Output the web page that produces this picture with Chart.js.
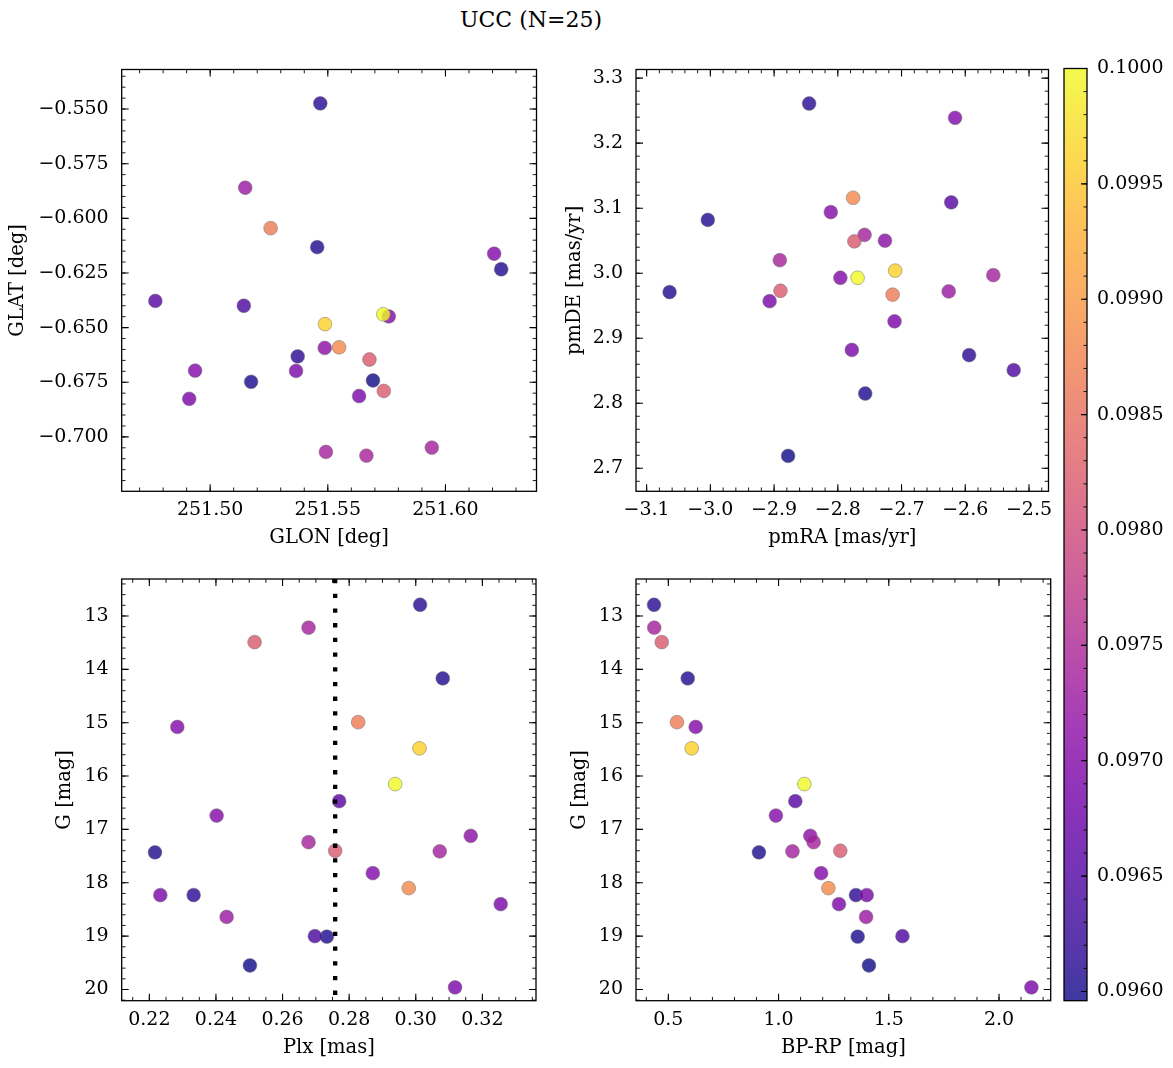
<!DOCTYPE html>
<html><head><meta charset="utf-8">
<script src="https://cdn.jsdelivr.net/npm/chart.js@4/dist/chart.umd.min.js"></script>
<style>
html,body{margin:0;padding:0;background:#fff;}
body{width:1173px;height:1068px;position:relative;overflow:hidden;font-family:'DejaVu Serif',serif;}
canvas{position:absolute;display:block;}
#title{position:absolute;left:0;width:1062px;top:6px;text-align:center;font-size:22px;line-height:28px;color:#000;}
</style></head><body>
<div id="title">UCC (N=25)</div>
<canvas id="c1" width="560" height="520" style="left:0px;top:40px;width:560px;height:520px"></canvas>
<canvas id="c2" width="500" height="520" style="left:560px;top:40px;width:500px;height:520px"></canvas>
<canvas id="c3" width="560" height="518" style="left:0px;top:550px;width:560px;height:518px"></canvas>
<canvas id="c4" width="500" height="518" style="left:560px;top:550px;width:500px;height:518px"></canvas>
<canvas id="cb" width="118" height="1000" style="left:1055px;top:40px;width:118px;height:1000px"></canvas>
<script>
// ---- data (one entry per star) ----
const glon = [251.5468,251.5492,251.5677,251.5455,251.6207,251.5257,251.5488,251.5736,251.4767,251.5759,251.5664,251.5487,251.6237,251.5738,251.5942,251.4936,251.5548,251.5365,251.5372,251.4911,251.5149,251.5143,251.5174,251.5692,251.5633];
const glat = [-0.5474,-0.7069,-0.6646,-0.6132,-0.6162,-0.6045,-0.6484,-0.6439,-0.6378,-0.6449,-0.7086,-0.6593,-0.6233,-0.6790,-0.7049,-0.6697,-0.6590,-0.6698,-0.6632,-0.6826,-0.5860,-0.6400,-0.6748,-0.6742,-0.6813];
const pmra = [-2.845,-2.758,-2.774,-3.004,-2.616,-2.714,-2.710,-2.769,-2.622,-2.811,-2.891,-2.726,-3.064,-2.890,-2.556,-2.796,-2.776,-2.907,-2.594,-2.711,-2.626,-2.524,-2.757,-2.878,-2.778];
const pmde = [3.261,3.059,3.049,3.082,3.239,2.967,3.004,2.993,3.109,3.094,3.020,3.050,2.971,2.973,2.997,2.993,3.116,2.957,2.874,2.926,2.972,2.851,2.815,2.719,2.882];
const plx  = [0.3013,0.2678,0.2516,0.3081,0.2284,0.2827,0.3011,0.2938,0.2770,0.2402,0.2678,0.3165,0.2217,0.2758,0.3072,0.2871,0.2979,0.2233,0.2333,0.3255,0.2432,0.2697,0.2733,0.2502,0.3118];
const gmag = [12.79,13.22,13.49,14.17,15.08,14.99,15.48,16.15,16.47,16.74,17.24,17.12,17.43,17.40,17.41,17.82,18.10,18.23,18.23,18.40,18.64,19.00,19.01,19.55,19.96];
const bprp = [0.435,0.436,0.470,0.588,0.624,0.539,0.606,1.117,1.076,0.988,1.159,1.144,0.911,1.280,1.063,1.193,1.226,1.400,1.351,1.274,1.397,1.562,1.359,1.410,2.147];
const prob = [0.09612,0.09740,0.09820,0.09608,0.09700,0.09865,0.09960,0.10000,0.09655,0.09702,0.09742,0.09710,0.09605,0.09822,0.09738,0.09700,0.09882,0.09690,0.09615,0.09692,0.09728,0.09645,0.09604,0.09596,0.09690];
const plxLine = 0.2758;

// ---- tick labels ----
const glonTicks = [251.50, 251.55, 251.60];
const glatTicks = [-0.700, -0.675, -0.650, -0.625, -0.600, -0.575, -0.550];
const pmraTicks = [-3.1, -3.0, -2.9, -2.8, -2.7, -2.6, -2.5];
const pmdeTicks = [2.7, 2.8, 2.9, 3.0, 3.1, 3.2, 3.3];
const plxTicks  = [0.22, 0.24, 0.26, 0.28, 0.30, 0.32];
const gTicks    = [13, 14, 15, 16, 17, 18, 19, 20];
const bprpTicks = [0.5, 1.0, 1.5, 2.0];
const probTicks = [0.0960, 0.0965, 0.0970, 0.0975, 0.0980, 0.0985, 0.0990, 0.0995, 0.1000];

// ---- styling ----
const PLASMA = ['#0d0887','#2a0593','#41049d','#5601a4','#6a00a8','#7e03a8','#8f0da4','#a11b9b','#b12a90','#bf3984','#cc4778','#d6556d','#e16462','#ea7457','#f2844b','#f89540','#fca636','#feb72d','#fcce25','#f7e225','#f0f921'];
const ALPHA = 0.8;
const TICK_FS = 19, LABEL_FS = 19.5;
function hex2rgb(h){return [parseInt(h.slice(1,3),16),parseInt(h.slice(3,5),16),parseInt(h.slice(5,7),16)];}
function plasma(t, a){
  t = Math.max(0, Math.min(1, t));
  const f = t*(PLASMA.length-1), i = Math.min(Math.floor(f), PLASMA.length-2), r = f-i;
  const c0 = hex2rgb(PLASMA[i]), c1 = hex2rgb(PLASMA[i+1]);
  const c = c0.map((v,k)=>Math.round(v+(c1[k]-v)*r));
  return `rgba(${c[0]},${c[1]},${c[2]},${a})`;
}
const vmin = Math.min(...prob), vmax = Math.max(...prob);
const order = prob.map((p,i)=>i).sort((i,j)=>prob[i]-prob[j]);
const colors = order.map(i=>plasma((prob[i]-vmin)/(vmax-vmin), ALPHA));
function pts(xs, ys){ return order.map(i=>({x:xs[i], y:ys[i]})); }

Chart.defaults.font.family = "'DejaVu Serif', serif";
Chart.defaults.color = '#000';

const innerTicks = {
  id:'innerTicks',
  afterDraw(chart, args, o){
    const ctx = chart.ctx, a = chart.chartArea;
    ctx.save();
    ctx.strokeStyle = '#000';
    ['x','y'].forEach(id=>{
      const cfg = o[id]; if(!cfg) return;
      const s = chart.scales[id];
      const majors = s.ticks.map(t=>t.value);
      const lo = Math.min(s.min,s.max), hi = Math.max(s.min,s.max);
      const minors = [];
      for(let k=Math.ceil(lo/cfg.minor-1e-6); k*cfg.minor<=hi+1e-12; k++) minors.push(k*cfg.minor);
      const draw = (vals, len, lw)=>{
        ctx.lineWidth = lw; ctx.beginPath();
        vals.forEach(v=>{
          const p = s.getPixelForValue(v);
          if(id==='x'){
            if(p<a.left-0.5||p>a.right+0.5) return;
            if(cfg.sides.includes('bottom')){ctx.moveTo(p,a.bottom);ctx.lineTo(p,a.bottom-len);}
            if(cfg.sides.includes('top')){ctx.moveTo(p,a.top);ctx.lineTo(p,a.top+len);}
          } else {
            if(p<a.top-0.5||p>a.bottom+0.5) return;
            if(cfg.sides.includes('left')){ctx.moveTo(a.left,p);ctx.lineTo(a.left+len,p);}
            if(cfg.sides.includes('right')){ctx.moveTo(a.right,p);ctx.lineTo(a.right-len,p);}
          }
        });
        ctx.stroke();
      };
      draw(minors, cfg.minLen||3.8, 0.9);
      draw(majors, cfg.majLen||7, 1.1);
    });
    ctx.lineWidth = 1.3;
    ctx.strokeRect(a.left, a.top, a.right-a.left, a.bottom-a.top);
    ctx.restore();
  }
};

const cbFill = {
  id:'cbFill',
  beforeDatasetsDraw(chart){
    const ctx = chart.ctx, a = chart.chartArea, s = chart.scales.y;
    const y0 = s.getPixelForValue(vmin), y1 = s.getPixelForValue(vmax);
    const g = ctx.createLinearGradient(0, y0, 0, y1);
    PLASMA.forEach((c,i)=>g.addColorStop(i/(PLASMA.length-1), plasma(i/(PLASMA.length-1), ALPHA)));
    ctx.save(); ctx.fillStyle = g; ctx.fillRect(a.left, a.top, a.right-a.left, a.bottom-a.top); ctx.restore();
  }
};

function fmt(d){ return v=>Number(v).toFixed(d).replace('-','\u2212'); }

function axis(o){
  const horiz = o.horiz;
  return {
    type:'linear', position:o.position, min:o.min, max:o.max, reverse:!!o.reverse, display:o.display!==false,
    afterBuildTicks: s=>{ s.ticks = o.ticks.map(v=>({value:v})); },
    afterFit: s=>{ if(horiz) s.height = o.size; else s.width = o.size; },
    grid:{display:false, drawTicks:false},
    border:{display:false},
    ticks:{padding:o.pad, color:'#000', font:{size:TICK_FS}, callback:fmt(o.dec), maxRotation:0, autoSkip:false},
    title:{display:!!o.title, text:o.title||'', color:'#000', font:{size:LABEL_FS}, padding:o.tpad||0}
  };
}

function scatterDS(xs, ys){
  return {type:'scatter', data:pts(xs,ys), pointBackgroundColor:colors, pointBorderColor:'rgba(110,110,110,0.7)',
    pointBorderWidth:0.7, pointRadius:6.9, pointHoverRadius:6.9, order:2};
}

function makeChart(id, datasets, xa, ya, pad, tickCfg){
  return new Chart(document.getElementById(id), {
    type:'scatter',
    data:{datasets},
    options:{
      responsive:false, animation:false, devicePixelRatio:1,
      layout:{padding:pad},
      plugins:{legend:{display:false}, tooltip:{enabled:false}, innerTicks:tickCfg},
      scales:{x:xa, y:ya}
    },
    plugins:[innerTicks]
  });
}

const XH1 = 68.7, XH3 = 67.3;
// Panel 1: GLON vs GLAT
makeChart('c1', [scatterDS(glon, glat)],
  axis({horiz:true, position:'bottom', min:251.4624, max:251.6387, ticks:glonTicks, dec:2, size:XH1, pad:7.5, title:'GLON [deg]', tpad:{top:0,bottom:10.3}}),
  axis({position:'left', min:-0.7249, max:-0.5319, ticks:glatTicks, dec:3, size:121.7, pad:13, title:'GLAT [deg]', tpad:{top:6.3,bottom:0}}),
  {left:0, top:29.5, right:23.5, bottom:0},
  {x:{minor:0.01, sides:['bottom','top']}, y:{minor:0.005, sides:['left','right']}});

// Panel 2: pmRA vs pmDE
makeChart('c2', [scatterDS(pmra, pmde)],
  axis({horiz:true, position:'bottom', min:-3.1167, max:-2.4694, ticks:pmraTicks, dec:1, size:XH1, pad:7.5, title:'pmRA [mas/yr]', tpad:{top:0,bottom:10.3}}),
  axis({position:'left', min:2.6646, max:3.3133, ticks:pmdeTicks, dec:1, size:76, pad:13, title:'pmDE [mas/yr]', tpad:{top:3.3,bottom:0}}),
  {left:0, top:29.5, right:9.3, bottom:0},
  {x:{minor:0.02, sides:['bottom','top']}, y:{minor:0.02, sides:['left','right']}});

// Panel 3: Plx vs G
const lineDS = {type:'line', data:[{x:plxLine, y:12.307},{x:plxLine, y:20.21}], borderColor:'#000', borderWidth:4.3,
  borderDash:[4.3,10.4], borderCapStyle:'butt', pointRadius:0, fill:false, order:1};
makeChart('c3', [scatterDS(plx, gmag), lineDS],
  axis({horiz:true, position:'bottom', min:0.2117, max:0.3361, ticks:plxTicks, dec:2, size:XH3, pad:7.5, title:'Plx [mas]', tpad:{top:0,bottom:8.3}}),
  axis({position:'left', min:12.307, max:20.21, reverse:true, ticks:gTicks, dec:0, size:121.7, pad:13, title:'G [mag]', tpad:{top:53.3,bottom:0}}),
  {left:0, top:29, right:24, bottom:0},
  {x:{minor:0.005, sides:['bottom','top']}, y:{minor:0.2, sides:['left','right']}});

// Panel 4: BP-RP vs G
makeChart('c4', [scatterDS(bprp, gmag)],
  axis({horiz:true, position:'bottom', min:0.3533, max:2.2345, ticks:bprpTicks, dec:1, size:XH3, pad:7.5, title:'BP-RP [mag]', tpad:{top:0,bottom:8.3}}),
  axis({position:'left', min:12.307, max:20.21, reverse:true, ticks:gTicks, dec:0, size:76, pad:13, title:'G [mag]', tpad:{top:8.3,bottom:0}}),
  {left:0, top:29, right:9.3, bottom:0},
  {x:{minor:0.1, sides:['bottom','top']}, y:{minor:0.2, sides:['left','right']}});

// Colorbar
new Chart(document.getElementById('cb'), {
  type:'scatter',
  data:{datasets:[]},
  options:{
    responsive:false, animation:false, devicePixelRatio:1,
    layout:{padding:{left:9, top:28.5, right:0, bottom:39.3}},
    plugins:{legend:{display:false}, tooltip:{enabled:false},
      innerTicks:{y:{minor:0.0001, sides:['right'], majLen:6, minLen:3.5}}},
    scales:{
      x:{type:'linear', display:false, min:0, max:1},
      y:axis({position:'right', min:vmin, max:vmax, ticks:probTicks, dec:4, size:86, pad:10})
    }
  },
  plugins:[cbFill, innerTicks]
});
</script>
</body></html>
